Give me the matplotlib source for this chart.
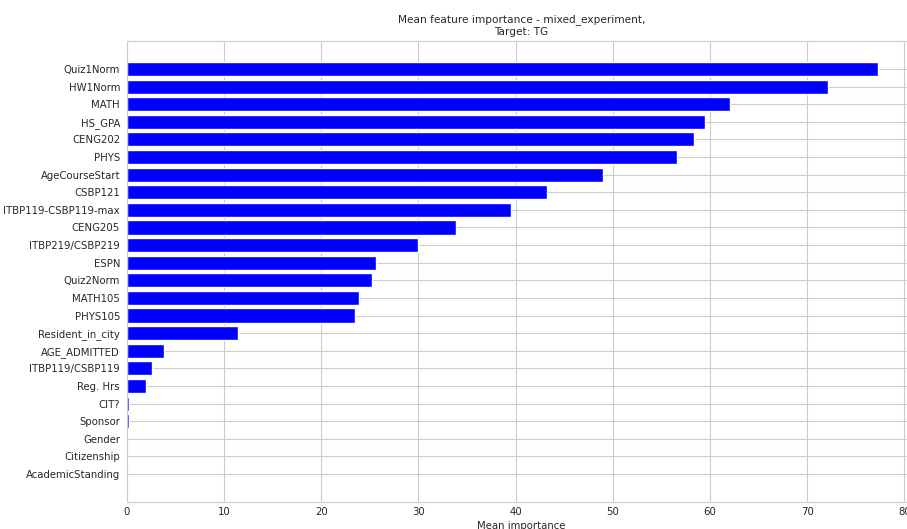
import matplotlib
matplotlib.use("Agg")
import matplotlib.pyplot as plt
import seaborn as sns
import numpy as np

sns.set_style("whitegrid")

# feature names, most important first
features = ["Quiz1Norm", "HW1Norm", "MATH", "HS_GPA", "CENG202", "PHYS",
            "AgeCourseStart", "CSBP121", "ITBP119-CSBP119-max", "CENG205",
            "ITBP219/CSBP219", "ESPN", "Quiz2Norm", "MATH105", "PHYS105",
            "Resident_in_city", "AGE_ADMITTED", "ITBP119/CSBP119", "Reg. Hrs",
            "CIT?", "Sponsor", "Gender", "Citizenship", "AcademicStanding"]
importance = [77.3, 72.2, 62.1, 59.5, 58.4, 56.6, 49.0, 43.2, 39.5, 33.9,
              29.9, 25.6, 25.2, 23.9, 23.5, 11.4, 3.8, 2.6, 2.0,
              0.2, 0.2, 0.0, 0.0, 0.0]

fig = plt.figure(figsize=(9.07, 5.29), dpi=100)
ax = fig.add_axes([127 / 907, 27 / 529, 788.6 / 907, 461 / 529])

ypos = np.arange(len(features))[::-1]
ax.barh(ypos, importance, color="blue", height=0.8, zorder=2)
ax.set_yticks(ypos)
ax.set_yticklabels(features)
ax.tick_params(axis="both", labelsize=7.3, colors=".15", length=0)
ax.tick_params(axis="x", pad=3.5)
ax.tick_params(axis="y", pad=5)
ax.set_xlabel("Mean importance", fontsize=7.3, labelpad=3)
ax.set_title("Mean feature importance - mixed_experiment,\nTarget: TG",
             fontsize=7.6, pad=4.5)

fig.savefig("out.png", dpi=100)
